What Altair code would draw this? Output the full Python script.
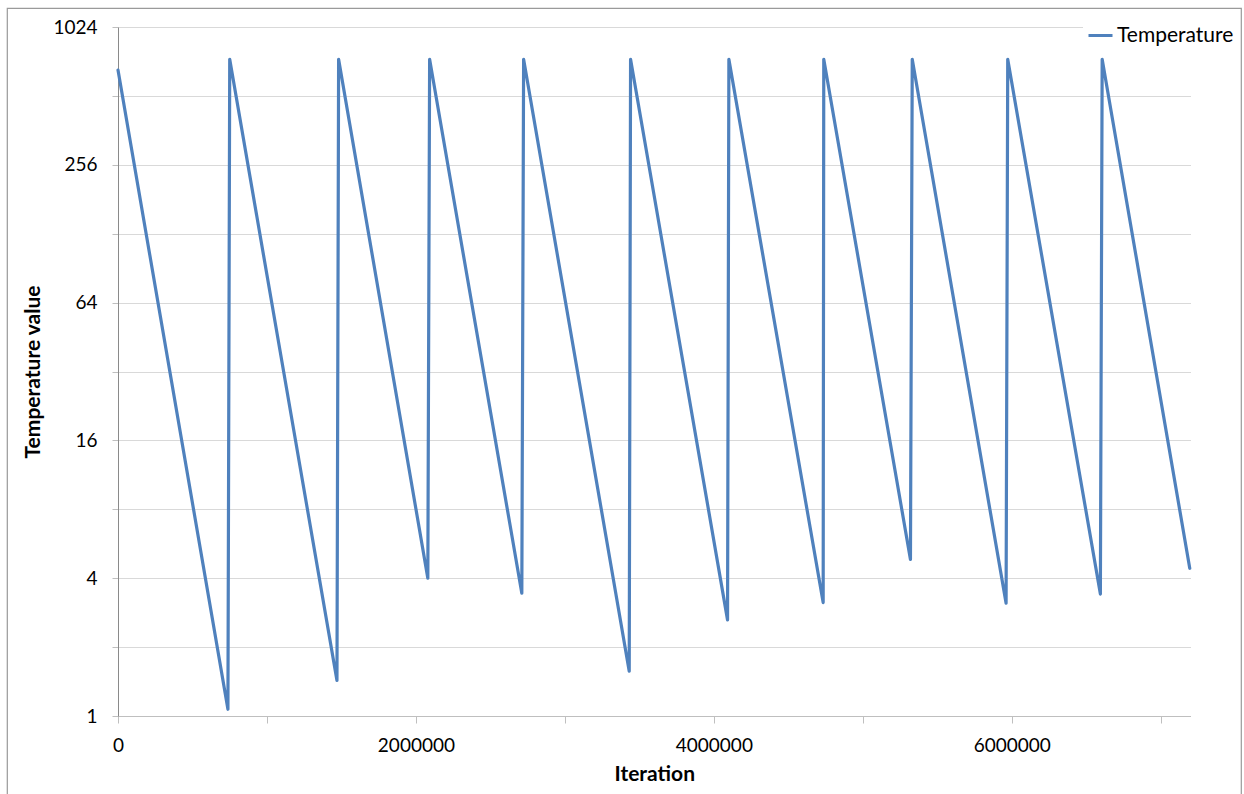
import altair as alt
import pandas as pd

# Simulated-annealing temperature schedule: exponential cooling with periodic reheats
iterations = [
    0,
    738000, 750000,
    1470000, 1481000,
    2080000, 2092000,
    2711000, 2723000,
    3432000, 3441000,
    4092000, 4101000,
    4734000, 4738000,
    5320000, 5332000,
    5962000, 5973000,
    6595000, 6607000,
    7195000,
]
temperatures = [
    664,
    1.07, 740,
    1.43, 740,
    4.0, 740,
    3.44, 740,
    1.57, 740,
    2.63, 740,
    3.13, 740,
    4.83, 740,
    3.11, 740,
    3.41, 740,
    4.42,
]
series_names = ["Temperature"] * len(iterations)

y_tick_values = [1, 2, 4, 8, 16, 32, 64, 128, 256, 512, 1024]
y_label_values = [1, 4, 16, 64, 256, 1024]
x_tick_values = [0, 1000000, 2000000, 3000000, 4000000, 5000000, 6000000, 7000000]

df = pd.DataFrame({
    "Iteration": iterations,
    "Temperature": temperatures,
    "Series": series_names,
})

FONT = "Lato"
W, H = 1072.5, 689

y_label_expr = "indexof([" + ",".join(str(v) for v in y_label_values) + "], datum.value) >= 0 ? format(datum.value, 'd') : ''"
x_label_expr = "datum.value % 2000000 == 0 ? format(datum.value, 'd') : ''"

# Outer frame around the whole chart
frame = alt.Chart(pd.DataFrame({"k": [0]})).mark_rect(
    filled=False, stroke="#9a9a9a", strokeWidth=1.2
).encode(
    x=alt.value(-110.7), x2=alt.value(1123.3),
    y=alt.value(-18.7), y2=alt.value(800),
)

line = alt.Chart(df).mark_line(
    strokeWidth=3.2, strokeJoin="round", strokeCap="round"
).encode(
    x=alt.X(
        "Iteration:Q",
        title="Iteration",
        scale=alt.Scale(domain=[0, 7200000], nice=False, zero=False),
        axis=alt.Axis(
            values=x_tick_values, labelExpr=x_label_expr, grid=False,
            domainColor="#bfbfbf", tickColor="#bfbfbf", tickSize=7,
            labelPadding=13, titlePadding=8, labelFlush=False,
        ),
    ),
    y=alt.Y(
        "Temperature:Q",
        title="Temperature value",
        scale=alt.Scale(type="log", base=2, domain=[1, 1024], nice=False),
        axis=alt.Axis(
            values=y_tick_values, labelExpr=y_label_expr, grid=True,
            gridColor="#d9d9d9", gridWidth=1.2,
            domainColor="#8a8a8a", tickColor="#bfbfbf", tickSize=6,
            labelPadding=15, titlePadding=9, labelFlush=False,
        ),
    ),
    color=alt.Color(
        "Series:N",
        scale=alt.Scale(domain=["Temperature"], range=["#4f81bd"]),
        legend=alt.Legend(
            title=None, orient="none", legendX=965, legendY=-9,
            symbolType="stroke", symbolSize=576, symbolStrokeWidth=3,
            labelFont=FONT, labelFontSize=21, labelColor="#000000",
            labelOffset=3, padding=4, fillColor="white",
        ),
    ),
    order=alt.Order("Iteration:Q"),
)

chart = alt.layer(frame, line).properties(
    width=W, height=H,
    autosize=alt.AutoSizeParams(type="none"),
    padding={"left": 118, "top": 27, "right": 1244 - 118 - W, "bottom": 794 - 27 - H},
    background="white",
).configure_view(
    stroke=None,
).configure_axis(
    labelFont=FONT, labelFontSize=19, labelColor="#000000",
    titleFont=FONT, titleFontSize=21, titleFontWeight="bold", titleColor="#000000",
)

chart.save("out.html", embed_options={"renderer": "svg", "actions": False})
